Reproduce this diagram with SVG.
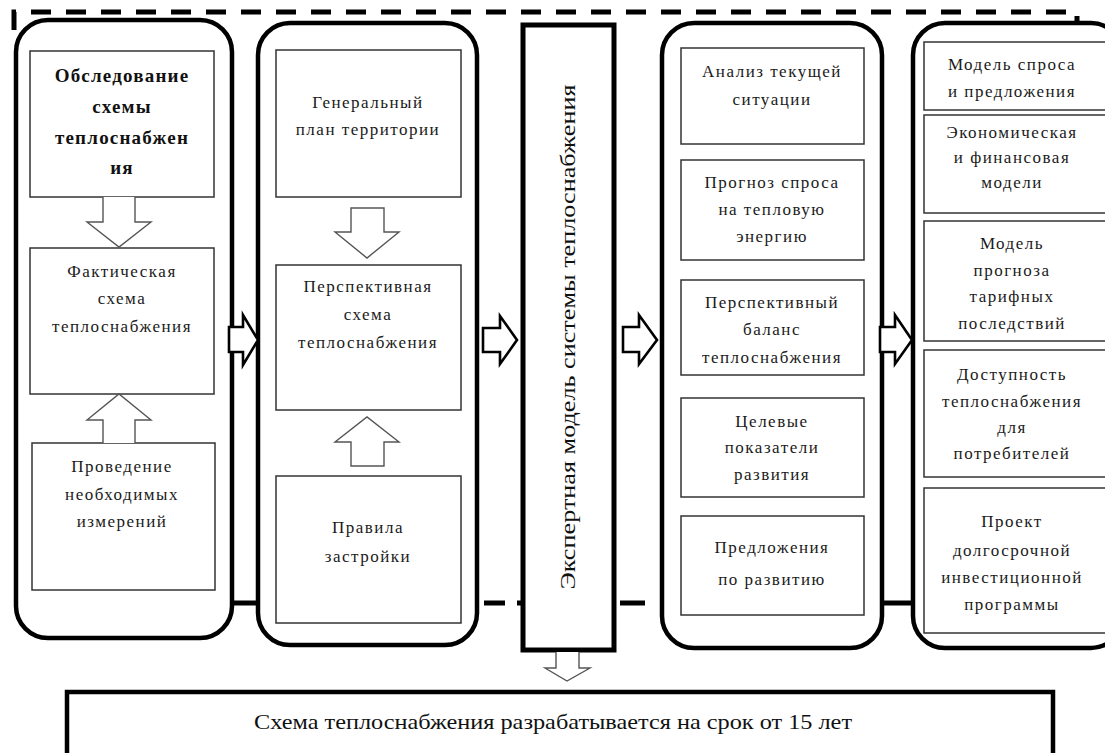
<svg xmlns="http://www.w3.org/2000/svg" width="1105" height="753" viewBox="0 0 1105 753">
<style>
.panel{fill:#fff;stroke:#000;stroke-width:4.5}
.box{fill:#fff;stroke:#333;stroke-width:1.5}
.t{font-family:"Liberation Serif","Times New Roman",serif;font-size:17px;letter-spacing:1.5px;fill:#1a1a1a;text-anchor:middle}
.tb{font-family:"Liberation Serif","Times New Roman",serif;font-size:19px;font-weight:bold;letter-spacing:1.2px;fill:#111;text-anchor:middle}
.ga{fill:#fff;stroke:#555;stroke-width:1.4;stroke-linejoin:miter}
.ba{fill:#fff;stroke:#000;stroke-width:2.6;stroke-linejoin:miter}
.dash{fill:none;stroke:#000;stroke-width:5}
</style>
<rect width="1105" height="753" fill="#fff"/>
<g id="frame">
<path class="dash" d="M14,30 V12 H1077 V25" stroke-dasharray="20 15"/>
<path class="dash" d="M232,603 H258 M484,603 H505 M517,603 H523 M620,603 H645 M882,603 H913"/>
</g>
<g id="panel1">
<rect class="panel" x="16" y="20" width="216" height="618" rx="32"/>
<g id="n-obsl"><rect class="box" x="30" y="51" width="184" height="146"/>
<text class="tb" x="122" y="82">Обследование</text><text class="tb" x="122" y="113">схемы</text><text class="tb" x="122" y="144">теплоснабжен</text><text class="tb" x="122" y="174">ия</text></g>
<g id="n-fakt"><rect class="box" x="30" y="248" width="184" height="146"/>
<text class="t" x="122" y="277">Фактическая</text><text class="t" x="122" y="304">схема</text><text class="t" x="122" y="332">теплоснабжения</text></g>
<g id="n-izm"><rect class="box" x="32" y="443" width="183" height="147"/>
<text class="t" x="122" y="472">Проведение</text><text class="t" x="122" y="500">необходимых</text><text class="t" x="122" y="527">измерений</text></g>
</g>
<g id="panel2">
<rect class="panel" x="258" y="23" width="219" height="622" rx="32"/>
<g id="n-genplan"><rect class="box" x="276" y="50" width="185" height="147"/>
<text class="t" x="368" y="108">Генеральный</text><text class="t" x="368" y="135">план территории</text></g>
<g id="n-persp"><rect class="box" x="276" y="265" width="185" height="145"/>
<text class="t" x="368" y="292">Перспективная</text><text class="t" x="368" y="320">схема</text><text class="t" x="368" y="348">теплоснабжения</text></g>
<g id="n-pravila"><rect class="box" x="276" y="476" width="185" height="147"/>
<text class="t" x="368" y="533">Правила</text><text class="t" x="368" y="562">застройки</text></g>
</g>
<g id="panel3">
<rect x="523" y="25" width="91" height="625" fill="#fff" stroke="#000" stroke-width="5"/>
<text transform="translate(575,337) rotate(-90)" font-family="'Liberation Serif','Times New Roman',serif" font-size="20" fill="#111" text-anchor="middle" textLength="505" lengthAdjust="spacingAndGlyphs">Экспертная модель системы теплоснабжения</text>
</g>
<g id="panel4">
<rect class="panel" x="662" y="23" width="220" height="625" rx="32"/>
<g id="n-analiz"><rect class="box" x="681" y="48" width="183" height="96"/>
<text class="t" x="772" y="77">Анализ текущей</text><text class="t" x="772" y="105">ситуации</text></g>
<g id="n-prognoz"><rect class="box" x="681" y="160" width="183" height="100"/>
<text class="t" x="772" y="188">Прогноз спроса</text><text class="t" x="772" y="215">на тепловую</text><text class="t" x="772" y="242">энергию</text></g>
<g id="n-balans"><rect class="box" x="681" y="280" width="183" height="95"/>
<text class="t" x="772" y="308">Перспективный</text><text class="t" x="772" y="335">баланс</text><text class="t" x="772" y="363">теплоснабжения</text></g>
<g id="n-celevye"><rect class="box" x="681" y="398" width="183" height="99"/>
<text class="t" x="772" y="427">Целевые</text><text class="t" x="772" y="453">показатели</text><text class="t" x="772" y="480">развития</text></g>
<g id="n-predl"><rect class="box" x="681" y="516" width="183" height="99"/>
<text class="t" x="772" y="553">Предложения</text><text class="t" x="772" y="585">по развитию</text></g>
</g>
<g id="panel5">
<rect class="panel" x="913" y="23" width="210" height="625" rx="32"/>
<g id="n-model"><rect class="box" x="924" y="42" width="190" height="68"/>
<text class="t" x="1012" y="70">Модель спроса</text><text class="t" x="1012" y="97">и предложения</text></g>
<g id="n-ekon"><rect class="box" x="924" y="115" width="190" height="98"/>
<text class="t" x="1012" y="138">Экономическая</text><text class="t" x="1012" y="163">и финансовая</text><text class="t" x="1012" y="188">модели</text></g>
<g id="n-tarif"><rect class="box" x="924" y="221" width="190" height="120"/>
<text class="t" x="1012" y="249">Модель</text><text class="t" x="1012" y="276">прогноза</text><text class="t" x="1012" y="302">тарифных</text><text class="t" x="1012" y="329">последствий</text></g>
<g id="n-dostup"><rect class="box" x="924" y="350" width="190" height="127"/>
<text class="t" x="1012" y="380">Доступность</text><text class="t" x="1012" y="407">теплоснабжения</text><text class="t" x="1012" y="433">для</text><text class="t" x="1012" y="459">потребителей</text></g>
<g id="n-proekt"><rect class="box" x="924" y="488" width="190" height="145"/>
<text class="t" x="1012" y="527">Проект</text><text class="t" x="1012" y="556">долгосрочной</text><text class="t" x="1012" y="583">инвестиционной</text><text class="t" x="1012" y="610">программы</text></g>
</g>
<g id="n-bottom">
<rect x="67" y="692" width="986" height="80" fill="#fff" stroke="#000" stroke-width="4.5"/>
<text x="553" y="729" font-family="'Liberation Serif','Times New Roman',serif" font-size="21" fill="#111" text-anchor="middle" textLength="598" lengthAdjust="spacingAndGlyphs">Схема теплоснабжения разрабатывается на срок от 15 лет</text>
</g>
<g id="connectors">
<path class="ga" d="M103,197 V222 H87 L119,247 L151,222 H135 V197"/>
<path class="ga" d="M103,443 V420 H87 L119,394 L151,420 H135 V443"/>
<path class="ga" d="M351,208 V232 H335 L367,258 L399,232 H384 V208 Z"/>
<path class="ga" d="M351,466 V442 H335 L367,417 L399,442 H384 V466 Z"/>
<path class="ga" d="M556,652 V668 H545 L567,681 L590,668 H579 V652"/>
<path class="ba" d="M229,327 H243 V315 L258,340 L243,365 V352 H229 Z"/>
<path class="ba" d="M483,328 H500 V316 L517,340 L500,364 V352 H483 Z"/>
<path class="ba" d="M623,327 H639 V315 L657,340 L639,364 V352 H623 Z"/>
<path class="ba" d="M880,327 H895 V315 L912,340 L895,364 V352 H880 Z"/>
</g>
</svg>
